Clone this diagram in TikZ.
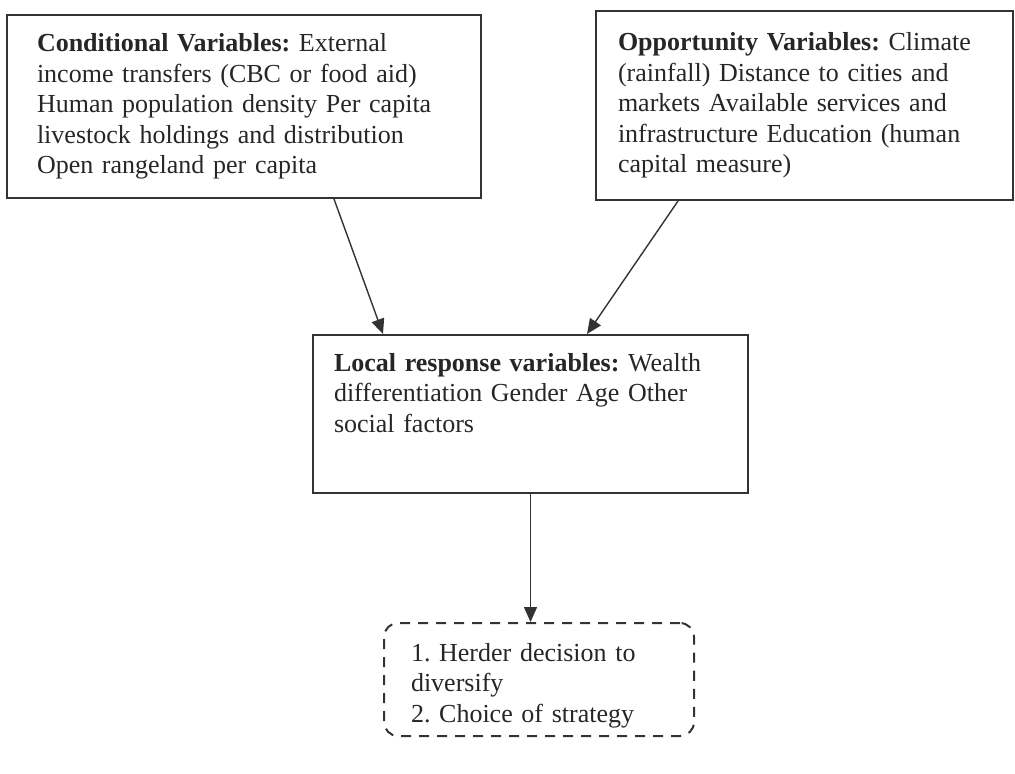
\documentclass[tikz,border=0pt]{standalone}
\usepackage{fontspec}
\setmainfont{Liberation Serif}
\frenchspacing
\usetikzlibrary{arrows.meta}
\tikzset{varbox/.style={draw=black!80,line width=1pt,anchor=north west,align=left,
		inner ysep=9pt,text=black!85,font=\fontsize{13}{15.25}\selectfont},
	outcome/.style={varbox,dash pattern=on 5pt off 4pt,rounded corners=7pt},
	link/.style={color=black!80,line width=0.7pt}}

\begin{document}
\begin{tikzpicture}[x=0.5pt,y=-0.5pt,>={Triangle[length=7.5pt,width=6.5pt]}]
	\useasboundingbox (0,0) rectangle (1015,773);
	\node[varbox,inner xsep=15pt,text width=207pt,minimum height=91.5pt] (cond) at (6,14)
	{\textbf{Conditional Variables:} External\\
		income transfers (CBC or food aid)\\
		Human population density Per capita\\
		livestock holdings and distribution\\
		Open rangeland per capita};
	\node[varbox,inner xsep=11pt,text width=186.5pt,minimum height=94.5pt] (opp) at (595,10)
	{\textbf{Opportunity Variables:} Climate\\
		(rainfall) Distance to cities and\\
		markets Available services and\\
		infrastructure Education (human\\
		capital measure)};
	\node[varbox,inner xsep=10.5pt,text width=196.5pt,text depth=52pt] (local) at (312,334)
	{\textbf{Local response variables:} Wealth\\
		differentiation Gender Age Other\\
		social factors};
	\node[outcome,inner xsep=13.5pt,inner ysep=6pt,text width=128pt,text height=13pt,text depth=31.5pt] (dec) at (383,622)
	{1. Herder decision to\\
		diversify\\
		2. Choice of strategy};
	\path[->,link]
	([xshift=45pt]cond.south) edge ([xshift=-73.75pt]local.north)
	([xshift=-63.25pt]opp.south) edge ([xshift=28.25pt]local.north)
	(local.south) edge (local.south |- dec.north);
\end{tikzpicture}
\end{document}
